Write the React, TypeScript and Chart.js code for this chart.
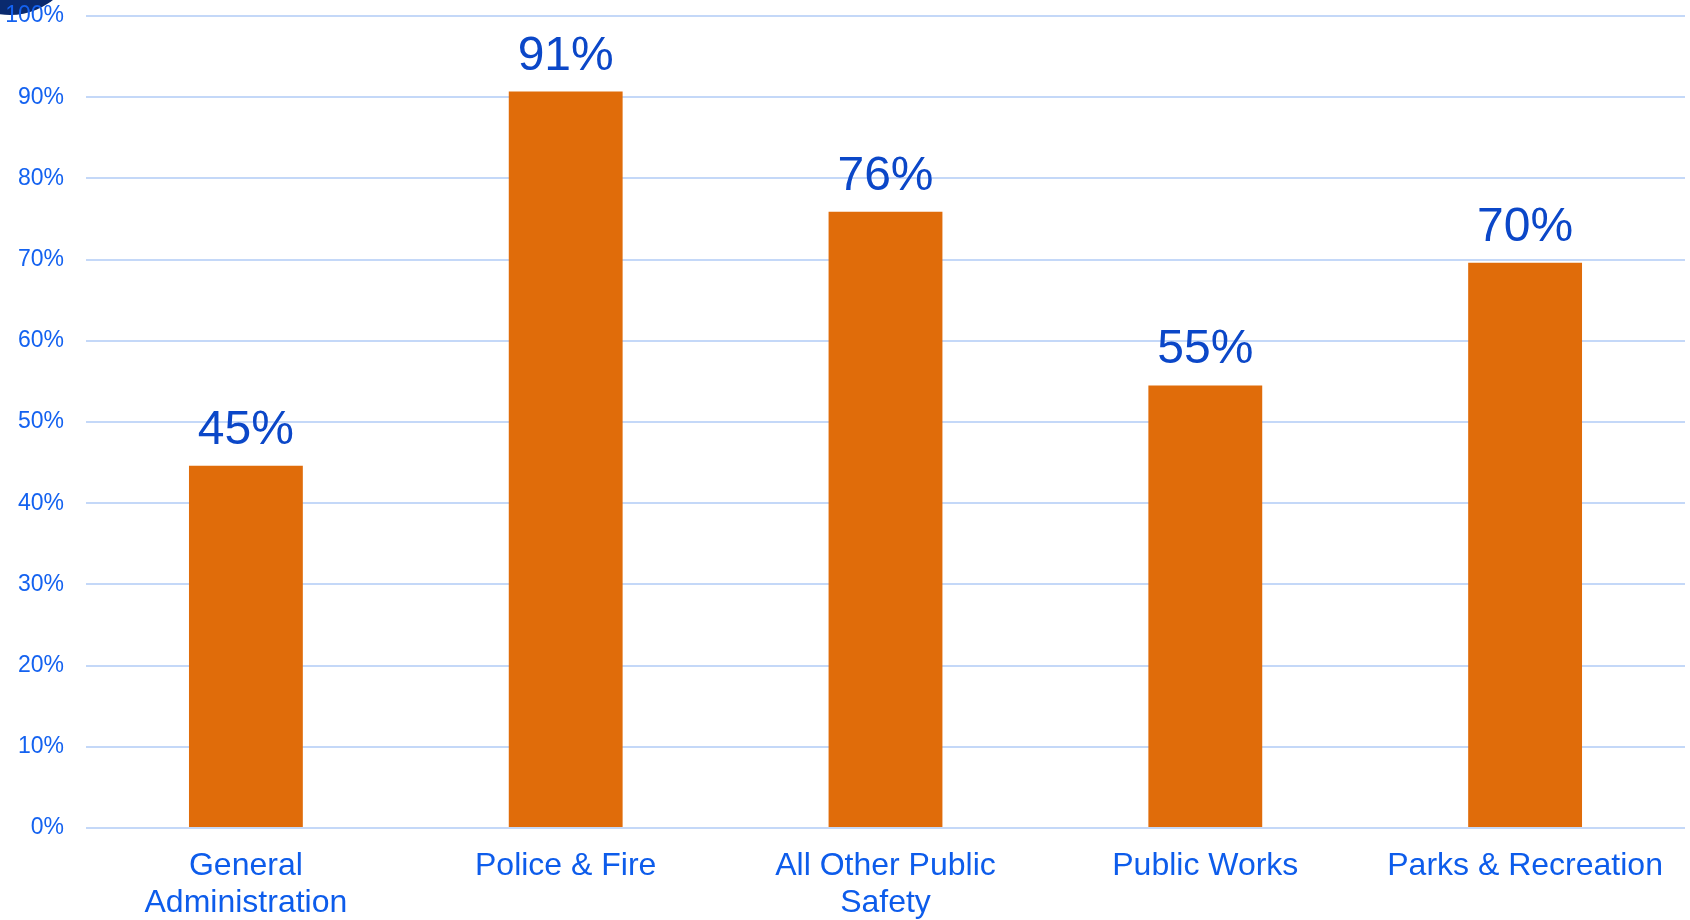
import React, { useEffect, useRef } from "react";
import { Chart, registerables } from "chart.js";

Chart.register(...registerables);

const categories: (string | string[])[] = [
  ["General", "Administration"],
  "Police & Fire",
  ["All Other Public", "Safety"],
  "Public Works",
  "Parks & Recreation",
];
const values: number[] = [44.6, 90.7, 75.9, 54.5, 69.6];
const yTicks: number[] = [0, 10, 20, 30, 40, 50, 60, 70, 80, 90, 100];

const FONT = "'Liberation Sans', Arial, Helvetica, sans-serif";

const blobPlugin = {
  id: "blob",
  beforeDraw(chart: any) {
    const ctx = chart.ctx;
    ctx.save();
    ctx.fillStyle = "#0A2A6E";
    ctx.beginPath();
    ctx.arc(10, -54, 69, 0, Math.PI * 2);
    ctx.fill();
    ctx.restore();
  },
};

const valueLabelPlugin = {
  id: "valueLabels",
  afterDatasetsDraw(chart: any) {
    const ctx = chart.ctx;
    const meta = chart.getDatasetMeta(0);
    ctx.save();
    ctx.font = `48px ${FONT}`;
    ctx.fillStyle = "#0B47C8";
    ctx.textAlign = "center";
    ctx.textBaseline = "alphabetic";
    meta.data.forEach((bar: any, i: number) => {
      ctx.fillText(`${Math.round(values[i])}%`, bar.x, bar.y - 22);
    });
    ctx.restore();
  },
};

export default function App() {
  const ref = useRef<HTMLCanvasElement | null>(null);
  useEffect(() => {
    if (!ref.current) return;
    const chart = new Chart(ref.current, {
      type: "bar",
      data: {
        labels: categories,
        datasets: [
          {
            data: values,
            backgroundColor: "#E06C0A",
            borderWidth: 0,
            barPercentage: 0.712,
            categoryPercentage: 0.5,
          },
        ],
      },
      options: {
        responsive: false,
        animation: false,
        maintainAspectRatio: false,
        layout: { padding: { top: 16, right: 5, left: 0, bottom: 0 } },
        plugins: {
          legend: { display: false },
          tooltip: { enabled: false },
        },
        scales: {
          x: {
            grid: { display: false, drawTicks: false },
            border: { display: false },
            ticks: {
              color: "#0D5CEB",
              font: { family: FONT, size: 32, lineHeight: 1.15 },
              padding: 20,
              maxRotation: 0,
              autoSkip: false,
            },
            afterFit(scale: any) {
              scale.height = 92;
              scale.paddingLeft = 0;
              scale.paddingRight = 0;
            },
          },
          y: {
            min: 0,
            max: 100,
            afterBuildTicks(scale: any) {
              scale.ticks = yTicks.map((v) => ({ value: v }));
            },
            grid: { color: "#C4D8F8", lineWidth: 2, drawTicks: false },
            border: { display: false },
            ticks: {
              color: "#1462F0",
              font: { family: FONT, size: 23 },
              padding: 22,
              callback: (v: any) => `${v}%`,
            },
            afterFit(scale: any) {
              scale.width = 86;
              scale.paddingTop = 0;
              scale.paddingBottom = 0;
            },
          },
        },
      },
      plugins: [blobPlugin, valueLabelPlugin],
    });
    return () => chart.destroy();
  }, []);
  return (
    <div style={{ position: "fixed", left: 0, top: 0, width: 1690, height: 920, background: "#fff" }}>
      <canvas ref={ref} width={1690} height={920} style={{ width: 1690, height: 920, display: "block" }} />
    </div>
  );
}
